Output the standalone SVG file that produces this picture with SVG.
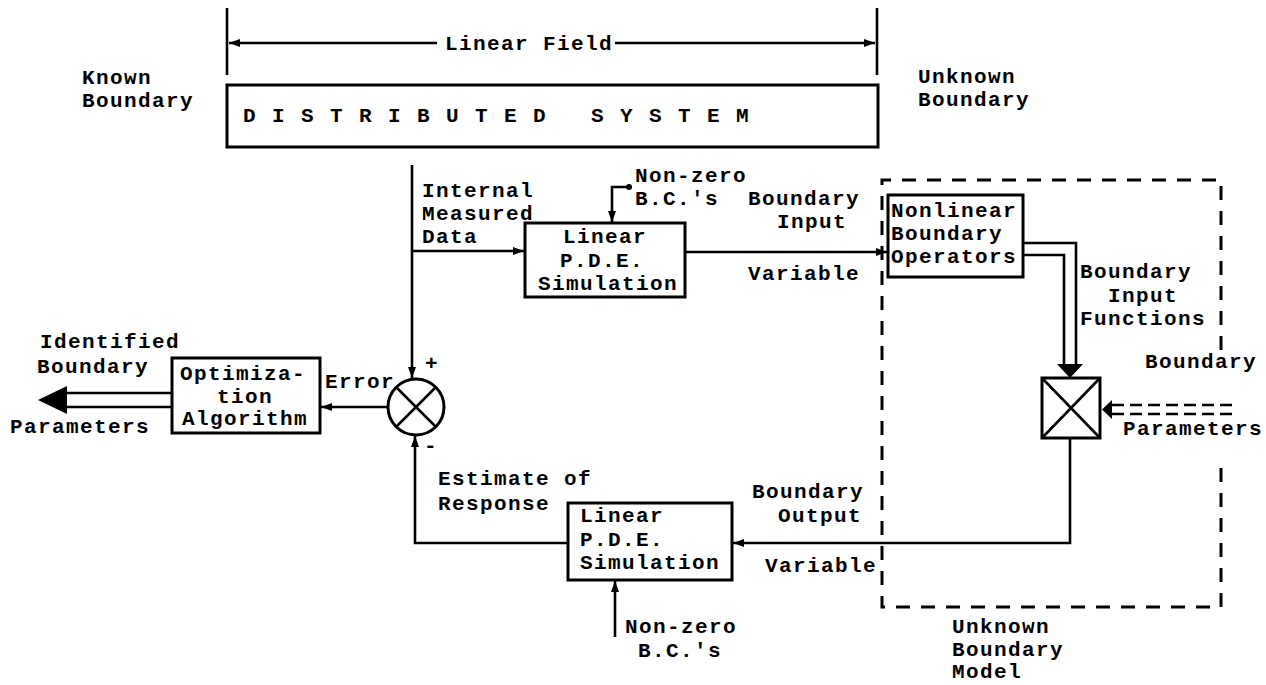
<svg xmlns="http://www.w3.org/2000/svg" width="1266" height="685" viewBox="0 0 1266 685">
<style>
text{font-family:"Liberation Mono","Courier New",monospace;font-weight:bold;font-size:21px;letter-spacing:1.4px;fill:#000}
.box{fill:#fff;stroke:#000;stroke-width:3}
.ln{fill:none;stroke:#000;stroke-width:2.6}
.dash{fill:none;stroke:#000;stroke-width:3;stroke-dasharray:14 11}
</style>
<defs>
<marker id="ah" markerUnits="userSpaceOnUse" markerWidth="14" markerHeight="12" refX="11" refY="6" orient="auto">
<path d="M0,2 L11,6 L0,10 z" fill="#000"/>
</marker>
<marker id="dot" markerUnits="userSpaceOnUse" markerWidth="8" markerHeight="8" refX="4" refY="4">
<circle cx="4" cy="4" r="3" fill="#000"/>
</marker>
</defs>
<rect width="1266" height="685" fill="#fff"/>

<g id="labels">
<text x="82" y="84">Known</text>
<text x="82" y="107">Boundary</text>
<text x="918" y="83">Unknown</text>
<text x="918" y="106">Boundary</text>
<text x="445" y="50">Linear Field</text>
<text x="422" y="197">Internal</text>
<text x="422" y="220">Measured</text>
<text x="422" y="243">Data</text>
<text x="635" y="182">Non-zero</text>
<text x="635" y="205">B.C.'s</text>
<text x="748" y="205">Boundary</text>
<text x="777" y="228">Input</text>
<text x="748" y="280">Variable</text>
<text x="1080" y="278">Boundary</text>
<text x="1108" y="302">Input</text>
<text x="1080" y="325">Functions</text>
<text x="1145" y="368">Boundary</text>
<text x="1123" y="435">Parameters</text>
<text x="40" y="348">Identified</text>
<text x="37" y="373">Boundary</text>
<text x="10" y="433">Parameters</text>
<text x="325" y="388">Error</text>
<text x="425" y="370">+</text>
<text x="424" y="452">-</text>
<text x="438" y="485">Estimate of</text>
<text x="438" y="510">Response</text>
<text x="752" y="498">Boundary</text>
<text x="778" y="522">Output</text>
<text x="765" y="572">Variable</text>
<text x="625" y="633">Non-zero</text>
<text x="638" y="657">B.C.'s</text>
<text x="952" y="633">Unknown</text>
<text x="952" y="656">Boundary</text>
<text x="952" y="678">Model</text>
</g>

<g id="distributed-system">
<rect class="box" x="227" y="85" width="651" height="62"/>
<text x="243" y="122" xml:space="preserve" textLength="507" lengthAdjust="spacing">D I S T R I B U T E D   S Y S T E M</text>
</g>

<g id="linear-pde-1">
<rect class="box" x="525" y="223" width="160" height="74"/>
<text x="563" y="243">Linear</text>
<text x="560" y="267">P.D.E.</text>
<text x="538" y="290">Simulation</text>
</g>

<g id="nonlinear-operators">
<rect class="box" x="888" y="195" width="135" height="82"/>
<text x="891" y="217">Nonlinear</text>
<text x="891" y="240">Boundary</text>
<text x="891" y="263">Operators</text>
</g>

<g id="multiplier">
<rect class="box" x="1042" y="378" width="58" height="60"/>
<path class="ln" d="M1042,378 L1100,438 M1100,378 L1042,438"/>
</g>

<g id="optimization">
<rect class="box" x="172" y="358" width="148" height="75"/>
<text x="180" y="380">Optimiza-</text>
<text x="217" y="403">tion</text>
<text x="182" y="425">Algorithm</text>
</g>

<g id="summer">
<circle cx="416" cy="407" r="28" fill="#fff" stroke="#000" stroke-width="3"/>
<path class="ln" d="M396,387 L436,427 M436,387 L396,427"/>
</g>

<g id="linear-pde-2">
<rect class="box" x="568" y="503" width="164" height="77"/>
<text x="580" y="522">Linear</text>
<text x="580" y="546">P.D.E.</text>
<text x="580" y="569">Simulation</text>
</g>

<g id="unknown-boundary-model">
<path class="dash" d="M1221,350 V180 H882 V607 H1221 V457"/>
</g>

<g id="connectors">
<path class="ln" d="M227,8 V75 M877,8 V75"/>
<path class="ln" d="M437,43 H229" marker-end="url(#ah)"/>
<path class="ln" d="M615,43 H875" marker-end="url(#ah)"/>
<path class="ln" d="M412,165 V378" marker-end="url(#ah)"/>
<path class="ln" d="M412,251 H524" marker-end="url(#ah)"/>
<path class="ln" d="M629,187 H612 V222" marker-start="url(#dot)" marker-end="url(#ah)"/>
<path class="ln" d="M685,252 H887" marker-end="url(#ah)"/>
<path class="ln" d="M1023,243 H1076 V366 M1023,255 H1064 V366"/>
<path d="M1057,364 L1083,364 L1070,378 z" fill="#000"/>
<path class="ln" d="M1232,405 H1110 M1232,414 H1110" stroke-dasharray="12 6"/>
<path d="M1112,400 L1102,409.5 L1112,419 z" fill="#000"/>
<path class="ln" d="M1070,438 V543 H733" marker-end="url(#ah)"/>
<path class="ln" d="M568,543 H415 V436" marker-end="url(#ah)"/>
<path class="ln" d="M615,637 V581" marker-end="url(#ah)"/>
<path class="ln" d="M388,407 H321" marker-end="url(#ah)"/>
<path class="ln" d="M172,393 H64 M172,407 H64"/>
<path d="M67,386 L67,414 L38,400 z" fill="#000"/>
</g>
</svg>
